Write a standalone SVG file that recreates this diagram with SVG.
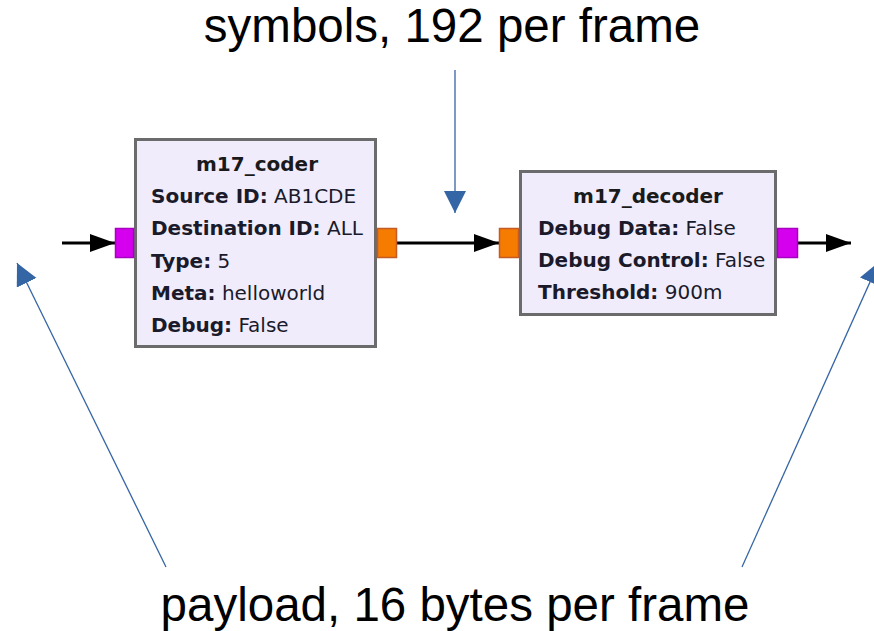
<svg xmlns="http://www.w3.org/2000/svg" width="874" height="631" viewBox="0 0 874 631">
<defs>
<style>
.blk{fill:#f0ecfc;stroke:#6b6b6b;stroke-width:3}
.pin{fill:#d400ee;stroke:#a800c0;stroke-width:1.5}
.pout{fill:#f57c00;stroke:#c45a24;stroke-width:1.5}
.t{font-family:"DejaVu Sans",sans-serif;font-size:20px;fill:#1a1a2a}
.b{font-weight:bold}
.ttl{font-family:"DejaVu Sans",sans-serif;font-size:20px;font-weight:bold;fill:#1a1a1a;text-anchor:middle}
.big{font-family:"Liberation Sans",Arial,sans-serif;font-size:47.5px;fill:#000;text-anchor:middle}
.wire{stroke:#000;stroke-width:3;fill:none}
.ann{stroke:#3465a4;stroke-width:1.3;fill:none}
</style>
<marker id="ab" markerUnits="userSpaceOnUse" markerWidth="26" markerHeight="20" refX="25" refY="9" orient="auto">
<path d="M0,0 L25,9 L0,18 Z" fill="#000"/>
</marker>
<marker id="au" markerUnits="userSpaceOnUse" markerWidth="24" markerHeight="24" refX="22" refY="11" orient="auto">
<path d="M0,0 L22,11 L0,22 Z" fill="#3465a4"/>
</marker>
</defs>
<rect width="874" height="631" fill="#fff"/>
<g id="connectors">
<line class="wire" x1="62" y1="243" x2="115" y2="243" marker-end="url(#ab)"/>
<line class="wire" x1="397" y1="243" x2="499" y2="243" marker-end="url(#ab)"/>
<line class="wire" x1="798" y1="243" x2="851" y2="243" marker-end="url(#ab)"/>
<line class="ann" x1="455" y1="70" x2="455" y2="213" marker-end="url(#au)"/>
<line class="ann" x1="166" y1="567" x2="17" y2="263" marker-end="url(#au)"/>
<line class="ann" x1="742" y1="567" x2="879" y2="262" marker-end="url(#au)"/>
</g>
<g id="m17_coder">
<rect class="blk" x="135.5" y="139.5" width="240" height="207"/>
<rect class="pin" x="115.5" y="228.5" width="18" height="29"/>
<rect class="pout" x="377.5" y="228.5" width="19" height="29"/>
<text class="ttl" x="257" y="171">m17_coder</text>
<text class="t" x="151" y="203"><tspan class="b">Source ID:</tspan> AB1CDE</text>
<text class="t" x="151" y="235"><tspan class="b">Destination ID:</tspan> ALL</text>
<text class="t" x="151" y="268"><tspan class="b">Type:</tspan> 5</text>
<text class="t" x="151" y="300"><tspan class="b">Meta:</tspan> helloworld</text>
<text class="t" x="151" y="332"><tspan class="b">Debug:</tspan> False</text>
</g>
<g id="m17_decoder">
<rect class="blk" x="520.5" y="171.5" width="255" height="143"/>
<rect class="pout" x="499.5" y="228.5" width="19" height="29"/>
<rect class="pin" x="777.5" y="228.5" width="20" height="29"/>
<text class="ttl" x="648" y="203">m17_decoder</text>
<text class="t" x="538" y="235"><tspan class="b">Debug Data:</tspan> False</text>
<text class="t" x="538" y="267"><tspan class="b">Debug Control:</tspan> False</text>
<text class="t" x="538" y="299"><tspan class="b">Threshold:</tspan> 900m</text>
</g>
<g id="labels">
<text class="big" x="452" y="42">symbols, 192 per frame</text>
<text class="big" x="455" y="621">payload, 16 bytes per frame</text>
</g>
</svg>
